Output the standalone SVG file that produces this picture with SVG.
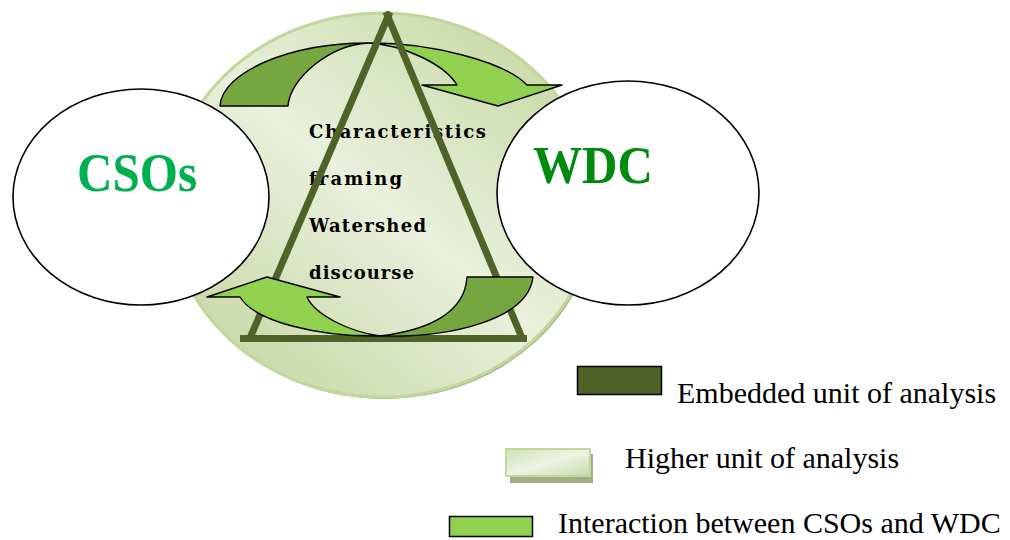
<svg xmlns="http://www.w3.org/2000/svg" width="1010" height="540" viewBox="0 0 1010 540">
<defs>
<linearGradient id="hg" x1="0.9" y1="0.05" x2="0.1" y2="0.95">
<stop offset="0" stop-color="#C6D8A2"/>
<stop offset="0.5" stop-color="#EAF0DD"/>
<stop offset="1" stop-color="#C5D6A1"/>
</linearGradient>
<linearGradient id="lg" x1="0" y1="0" x2="1" y2="1">
<stop offset="0" stop-color="#D2E1B6"/>
<stop offset="0.5" stop-color="#EEF3E4"/>
<stop offset="1" stop-color="#C9DAA8"/>
</linearGradient>
<style>
.oval{fill:#fff;stroke:#000;stroke-width:1.6}
.big{font-family:"Liberation Serif","Times New Roman",serif;font-weight:bold}
.mid{font-family:"DejaVu Serif",serif;font-weight:bold;font-size:18px;fill:#000}
.leg{font-family:"Liberation Serif","Times New Roman",serif;font-size:30px;fill:#000}
.dk{fill:#76A640;stroke:#000;stroke-width:1.4;stroke-linejoin:round}
.lt{fill:#92D050;stroke:#000;stroke-width:1.4;stroke-linejoin:round}
.tri{stroke:#4F6228;stroke-width:7;fill:none}
</style>
</defs>
<g id="higher-unit">
<ellipse cx="384" cy="207" rx="213" ry="192" fill="#A9B78C"/>
<ellipse cx="382" cy="205" rx="213" ry="192" fill="url(#hg)" stroke="#C3D69B" stroke-width="3"/>
</g>
<g id="cso">
<ellipse class="oval" cx="141" cy="197" rx="128" ry="108"/>
<text class="big" x="77" y="191" font-size="54" fill="#00B050" textLength="120" lengthAdjust="spacingAndGlyphs">CSOs</text>
</g>
<g id="wdc">
<ellipse class="oval" cx="628" cy="193" rx="131" ry="112"/>
<text class="big" x="533" y="183" font-size="53" fill="#008A0E" textLength="120" lengthAdjust="spacingAndGlyphs">WDC</text>
</g>
<g id="framing-text">
<text class="mid" x="309" y="138" textLength="177" lengthAdjust="spacing">Characteristics</text>
<text class="mid" x="309" y="185" textLength="93" lengthAdjust="spacing">framing</text>
<text class="mid" x="309" y="232" textLength="117" lengthAdjust="spacing">Watershed</text>
<text class="mid" x="309" y="279" textLength="105" lengthAdjust="spacing">discourse</text>
</g>
<g id="connectors">
<path class="dk" d="M220,106 C222,72 290,43 368,43 C330,45 290,78 288,106 Z"/>
<path class="lt" d="M368,43 C430,42 505,62 527,85 L562,85 L498,106 L422,85 L457,85 C445,65 405,45 368,43 Z"/>
</g>
<g id="triangle">
<line class="tri" x1="250" y1="338" x2="390" y2="12"/>
<line class="tri" x1="386" y1="12" x2="522" y2="338"/>
<line class="tri" x1="240" y1="338.5" x2="527" y2="338.5"/>
</g>
<g id="connectors-lower">
<path class="lt" d="M267,277 L340,297 L307,297 C315,315 350,332 380,336 C320,337 255,322 240,297 L207,297 Z"/>
<path class="dk" d="M533,277 C528,320 450,338 380,336 C430,330 465,312 467,277 Z"/>
</g>
<g id="legend">
<rect x="577.5" y="366.5" width="84" height="28" fill="#4F6228" stroke="#000" stroke-width="1.5"/>
<text class="leg" x="677" y="403">Embedded unit of analysis</text>
<rect x="510" y="454" width="83" height="29" fill="#A3AE86"/>
<rect x="506" y="449" width="84" height="27" fill="url(#lg)" stroke="#C3D69B" stroke-width="2"/>
<text class="leg" x="625" y="468">Higher unit of analysis</text>
<rect x="449.5" y="516.5" width="83" height="20" fill="#92D050" stroke="#000" stroke-width="1.5"/>
<text class="leg" x="558" y="533">Interaction between CSOs and WDC</text>
</g>
</svg>
